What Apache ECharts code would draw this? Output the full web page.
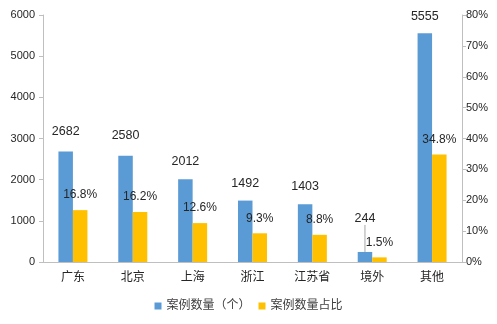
<!DOCTYPE html>
<html><head><meta charset="utf-8">
<script src="https://cdn.jsdelivr.net/npm/echarts@6/dist/echarts.min.js"></script>
<style>html,body{margin:0;padding:0;background:#fff}#c{width:497px;height:324px}</style>
</head><body><div id="c"></div>
<script>
var categories = ['广东','北京','上海','浙江','江苏省','境外','其他'];
var caseCounts = [2682, 2580, 2012, 1492, 1403, 244, 5555];
var caseShares = [16.8, 16.2, 12.6, 9.3, 8.8, 1.5, 34.8];
var seriesNames = ['案例数量（个）', '案例数量占比'];

var FF = "'Liberation Sans', 'Noto Sans CJK SC', sans-serif";
var txt = '#262626';
var chart = echarts.init(document.getElementById('c'));
chart.setOption({
  animation: false,
  textStyle: {fontFamily: FF},
  grid: {left: 43, right: 35, top: 15, bottom: 62},
  legend: {
    bottom: 7, left: 'center', itemWidth: 7, itemHeight: 7, itemGap: 8,
    icon: 'rect', textStyle: {fontSize: 12, color: '#404040', fontFamily: FF},
    data: seriesNames
  },
  xAxis: {
    type: 'category', data: categories,
    axisLine: {lineStyle: {color: '#bfbfbf'}},
    axisTick: {show: false},
    axisLabel: {fontSize: 12, color: txt, margin: 10, fontFamily: FF}
  },
  yAxis: [{
    type: 'value', min: 0, max: 6000, interval: 1000,
    splitLine: {show: false},
    axisLine: {show: true, lineStyle: {color: '#bfbfbf'}},
    axisTick: {show: true, length: 4, lineStyle: {color: '#bfbfbf'}},
    axisLabel: {fontSize: 11, color: txt, margin: 8, fontFamily: FF,
      formatter: function (v) { return String(v); }}
  }, {
    type: 'value', min: 0, max: 80, interval: 10,
    splitLine: {show: false},
    axisLine: {show: true, lineStyle: {color: '#bfbfbf'}},
    axisTick: {show: true, length: 4, lineStyle: {color: '#bfbfbf'}},
    axisLabel: {fontSize: 11, color: txt, margin: 4, formatter: '{value}%', fontFamily: FF}
  }],
  series: [{
    name: seriesNames[0], type: 'bar', yAxisIndex: 0,
    barWidth: 14.5, barGap: '0%',
    itemStyle: {color: '#5b9bd5'},
    data: caseCounts.map(function (v, i) {
      var d = {value: v};
      if (categories[i] === '境外') {
        d.labelLine = {show: true, lineStyle: {color: '#a6a6a6', width: 1}};
      }
      return d;
    }),
    label: {show: true, position: 'top', distance: 11, fontSize: 12.5, color: txt, fontFamily: FF},
    labelLayout: function (p) {
      if (categories[p.dataIndex] === '境外') return {dy: -16};
      if (p.dataIndex < 2) return {dy: -3};
      return {};
    }
  }, {
    name: seriesNames[1], type: 'bar', yAxisIndex: 1,
    barWidth: 14.5, barGap: '0%',
    itemStyle: {color: '#ffc000'},
    data: caseShares,
    label: {show: true, position: 'top', distance: 9, fontSize: 12, color: txt, formatter: '{c}%', fontFamily: FF}
  }]
});
</script></body></html>
